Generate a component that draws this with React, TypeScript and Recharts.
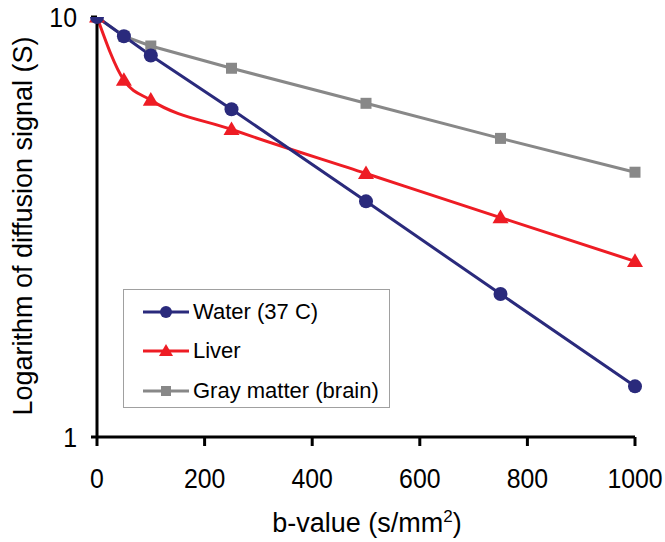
import React from 'react'
import { LineChart, Line, XAxis, YAxis } from 'recharts'

const bValues = [0, 50, 100, 250, 500, 750, 1000]
const water = [10, 9.0, 8.1, 6.03, 3.64, 2.19, 1.32]
const liver = [10, 7.07, 6.34, 5.4, 4.24, 3.33, 2.62]
const grayMatter = [10, 9.0, 8.53, 7.55, 6.23, 5.14, 4.27]
const xTicks = [0, 200, 400, 600, 800, 1000]
const yTicks = [1, 10]

const data = bValues.map((b, i) => ({ b, water: water[i], liver: liver[i], gray: grayMatter[i] }))

const NAVY = '#2a2a7c'
const RED = '#ee1c24'
const GRAY = '#888888'
const FONT = '"Liberation Sans", Arial, sans-serif'

const CircleDot = (props: any) => {
  const { cx, cy, index } = props
  return <circle key={index} cx={cx} cy={cy} r={7} fill={NAVY} />
}

const TriangleDot = (props: any) => {
  const { cx, cy, index } = props
  const s = 8
  return <path key={index} d={`M${cx},${cy - s} L${cx + s},${cy + s * 0.7} L${cx - s},${cy + s * 0.7} Z`} fill={RED} />
}

const SquareDot = (props: any) => {
  const { cx, cy, index } = props
  return <rect key={index} x={cx - 5.5} y={cy - 5.5} width={11} height={11} fill={GRAY} />
}

// tick labels in the original are a bit narrow and tall
const XTick = (props: any) => {
  const { x, y, payload } = props
  return (
    <g transform={`translate(${x},${y + 36})`}>
      <text transform="scale(0.92,1.03)" textAnchor="middle" fontSize={27} fontFamily={FONT} fill="#000">
        {payload.value}
      </text>
    </g>
  )
}

const YTick = (props: any) => {
  const { x, y, payload } = props
  return (
    <g transform={`translate(${x - 6},${y + 10})`}>
      <text transform="scale(0.92,1.03)" textAnchor="end" fontSize={27} fontFamily={FONT} fill="#000">
        {payload.value}
      </text>
    </g>
  )
}

const legendItems = [
  { name: 'Water (37 C)', color: NAVY, shape: 'circle' },
  { name: 'Liver', color: RED, shape: 'triangle' },
  { name: 'Gray matter (brain)', color: GRAY, shape: 'square' },
]

function LegendIcon({ color, shape }: { color: string; shape: string }) {
  return (
    <svg width={46} height={16} style={{ marginRight: 4 }}>
      <line x1={0} y1={8} x2={46} y2={8} stroke={color} strokeWidth={3} />
      {shape === 'circle' && <circle cx={23} cy={8} r={6} fill={color} />}
      {shape === 'triangle' && <path d="M23,1 L30,13 L16,13 Z" fill={color} />}
      {shape === 'square' && <rect x={18} y={3} width={10} height={10} fill={color} />}
    </svg>
  )
}

export default function App() {
  return (
    <div style={{ position: 'absolute', left: 0, top: 0, width: 665, height: 542, background: '#fff', fontFamily: FONT }}>
      <LineChart width={665} height={542} data={data} margin={{ top: 17, right: 30, left: 37, bottom: 65 }}>
        <XAxis
          dataKey="b"
          type="number"
          domain={[0, 1000]}
          ticks={xTicks}
          axisLine={{ stroke: '#000', strokeWidth: 3 }}
          tickLine={{ stroke: '#000', strokeWidth: 3 }}
          tickSize={9}
          tickMargin={6}
          height={40}
          tick={<XTick />}
        />
        <YAxis
          scale="log"
          domain={[1, 10]}
          ticks={yTicks}
          allowDataOverflow
          axisLine={{ stroke: '#000', strokeWidth: 3 }}
          tickLine={{ stroke: '#000', strokeWidth: 3 }}
          tickSize={6}
          tickMargin={8}
          width={60}
          tick={<YTick />}
        />
        <Line dataKey="gray" stroke={GRAY} strokeWidth={3} dot={<SquareDot />} activeDot={false} isAnimationActive={false} />
        <Line dataKey="liver" type="monotone" stroke={RED} strokeWidth={3} dot={<TriangleDot />} activeDot={false} isAnimationActive={false} />
        <Line dataKey="water" stroke={NAVY} strokeWidth={3} dot={<CircleDot />} activeDot={false} isAnimationActive={false} />
      </LineChart>

      <div
        style={{
          position: 'absolute',
          left: 23,
          top: 226,
          transform: 'translate(-50%, -50%) rotate(-90deg)',
          whiteSpace: 'nowrap',
          fontSize: 27,
        }}
      >
        Logarithm of diffusion signal (S)
      </div>

      <div
        style={{
          position: 'absolute',
          left: 367,
          top: 523,
          transform: 'translate(-50%, -50%)',
          whiteSpace: 'nowrap',
          fontSize: 27,
          lineHeight: '31px',
        }}
      >
        b-value (s/mm<span style={{ fontSize: 17, verticalAlign: 'super', lineHeight: 0 }}>2</span>)
      </div>

      <div
        style={{
          position: 'absolute',
          left: 123,
          top: 289,
          width: 267,
          height: 119,
          border: '1px solid #a0a0a0',
          background: '#fff',
          boxSizing: 'border-box',
          padding: '2px 0 0 19px',
        }}
      >
        {legendItems.map((it) => (
          <div key={it.name} style={{ display: 'flex', alignItems: 'center', height: 39.5, fontSize: 22 }}>
            <LegendIcon color={it.color} shape={it.shape} />
            <span>{it.name}</span>
          </div>
        ))}
      </div>
    </div>
  )
}
